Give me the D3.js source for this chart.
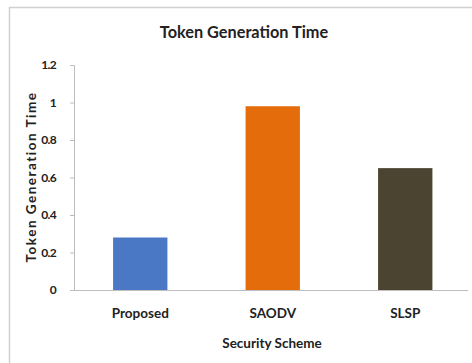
<!DOCTYPE html>
<html>
<head>
<meta charset="utf-8">
<script src="https://cdn.jsdelivr.net/npm/d3@7"></script>
<style>
  html, body { margin: 0; padding: 0; background: #fff; }
  svg { display: block; }
  text { font-family: Lato, "Open Sans", sans-serif; fill: #222; }
</style>
</head>
<body>
<script>
// Token generation time per security scheme
const schemes = ["Proposed", "SAODV", "SLSP"];
const times = [0.28, 0.98, 0.65];
const barColors = ["#4a78c4", "#e46c0a", "#4b4430"];
const yTicks = [0, 0.2, 0.4, 0.6, 0.8, 1, 1.2];

const W = 472, H = 363;
const svg = d3.select("body").append("svg").attr("width", W).attr("height", H);

// chart frame
svg.append("path")
  .attr("d", "M9.5,363 V7.5 H472")
  .attr("fill", "none").attr("stroke", "#d0d0d0").attr("stroke-width", 1.5);

const plot = { left: 74, right: 468, top: 65, bottom: 290 };

const x = d3.scaleBand().domain(schemes).range([plot.left, plot.left + 3 * 132.5])
  .paddingInner(0.59).paddingOuter(0.295);
const y = d3.scaleLinear().domain([0, 1.2]).range([plot.bottom, plot.top]);

// bars
svg.append("g").selectAll("rect").data(schemes).join("rect")
  .attr("x", d => x(d))
  .attr("y", (d, i) => y(times[i]))
  .attr("width", x.bandwidth())
  .attr("height", (d, i) => y(0) - y(times[i]))
  .attr("fill", (d, i) => barColors[i]);

// y axis
const yAxis = svg.append("g").attr("transform", `translate(${plot.left},0)`)
  .call(d3.axisLeft(y).tickValues(yTicks).tickSize(4).tickPadding(14).tickFormat(d => d3.format("")(d)));
yAxis.select(".domain").attr("stroke", "#bdbdbd");
yAxis.selectAll(".tick line").attr("stroke", "#bdbdbd");
yAxis.selectAll("text").attr("font-size", 12).attr("font-weight", "bold")
  .attr("letter-spacing", -0.7).style("font-family", "Lato, sans-serif");

// x axis baseline
const xAxis = svg.append("g").attr("transform", `translate(0,${plot.bottom})`)
  .call(d3.axisBottom(x).tickSize(0).tickPadding(18));
xAxis.select(".domain").attr("d", `M${plot.left},0.5H${plot.right}`).attr("stroke", "#bdbdbd");
xAxis.selectAll("text").attr("font-size", 13.5).attr("font-weight", "bold").style("font-family", "Lato, sans-serif");

// titles
svg.append("text").attr("x", 244).attr("y", 38).attr("text-anchor", "middle")
  .attr("font-size", 16.3).attr("font-weight", "bold").text("Token Generation Time");
svg.append("text").attr("x", 272).attr("y", 348).attr("text-anchor", "middle")
  .attr("font-size", 13.5).attr("font-weight", "bold").text("Security Scheme");
svg.append("text").attr("transform", `translate(36,177) rotate(-90)`).attr("text-anchor", "middle")
  .attr("font-size", 13.5).attr("font-weight", "bold").attr("letter-spacing", 1.5)
  .text("Token Generation Time");
</script>
</body>
</html>
